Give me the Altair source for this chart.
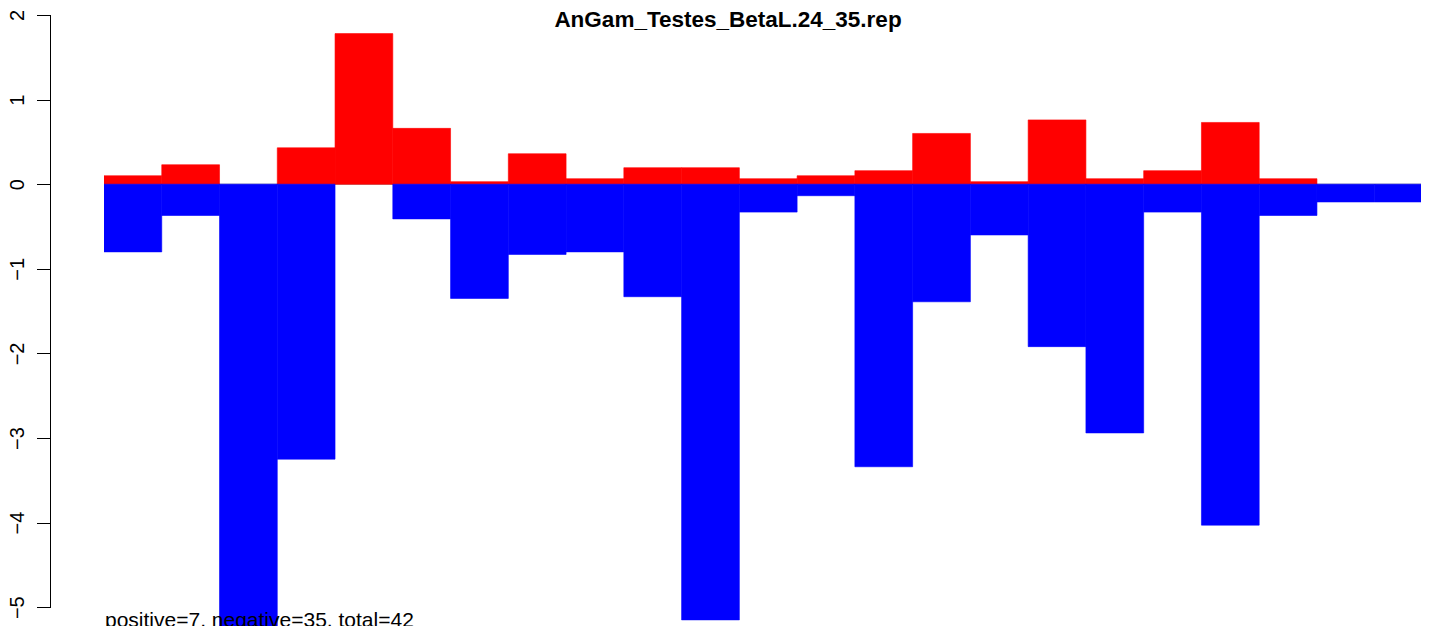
import altair as alt
import pandas as pd

# Values (one entry per bar, left to right)
positive = [0.10, 0.23, 0.0, 0.43, 1.78, 0.66, 0.03, 0.36, 0.065, 0.195, 0.195, 0.065,
            0.10, 0.16, 0.60, 0.03, 0.76, 0.065, 0.16, 0.73, 0.065, 0.0, 0.0]
negative = [-0.80, -0.37, -5.6, -3.25, 0.0, -0.41, -1.35, -0.83, -0.80, -1.33, -5.15, -0.33,
            -0.136, -3.34, -1.39, -0.60, -1.92, -2.94, -0.33, -4.03, -0.37, -0.21, -0.21]
y_ticks = [-5, -4, -3, -2, -1, 0, 1, 2]
title_text = "AnGam_Testes_BetaL.24_35.rep"
summary_text = "positive=7, negative=35, total=42"

n = len(positive)
df = pd.DataFrame({
    "start": list(range(n)),
    "end": [i + 1 for i in range(n)],
    "pos": positive,
    "neg": negative,
})

W = 1317
H = 611
BAND = 57.76
FONT = "Liberation Sans"

xs = alt.Scale(domain=[0, W / BAND], nice=False, zero=False)
ys = alt.Scale(domain=[2 - H / 84.6, 2], nice=False, zero=False)

yaxis = alt.Axis(
    values=y_ticks, title=None, domain=False, grid=False, offset=53.5,
    tickSize=14, tickColor="black", tickWidth=1,
    labelAngle=270, labelAlign="center", labelBaseline="alphabetic",
    labelPadding=13.5, labelFont=FONT, labelFontSize=20, labelColor="black",
    labelFlush=False, labelOverlap=False, format="d",
)

zero_rule = alt.Chart(pd.DataFrame({"v": [0]})).mark_rule(
    color="#808080", strokeWidth=1
).encode(
    y=alt.Y("v:Q", scale=ys, axis=yaxis),
    x=alt.value(0),
    x2=alt.value(W),
)

red = alt.Chart(df).transform_filter("datum.pos > 0").mark_bar(
    color="#FF0000", stroke="#FF0000", strokeWidth=0.6, clip=True
).encode(
    x=alt.X("start:Q", scale=xs, axis=None),
    x2="end:Q",
    y=alt.Y("pos:Q", scale=ys, axis=yaxis),
    y2=alt.datum(0),
)

blue = alt.Chart(df).transform_filter("datum.neg < 0").mark_bar(
    color="#0000FF", stroke="#0000FF", strokeWidth=0.6, clip=True
).encode(
    x=alt.X("start:Q", scale=xs, axis=None),
    x2="end:Q",
    y=alt.Y("neg:Q", scale=ys, axis=yaxis),
    y2=alt.datum(0),
)

axis_line = alt.Chart(pd.DataFrame({"lo": [y_ticks[0]], "hi": [y_ticks[-1]]})).mark_rule(
    color="black", strokeWidth=1
).encode(
    x=alt.value(-53.5),
    y=alt.Y("lo:Q", scale=ys, axis=yaxis),
    y2="hi:Q",
)

title = alt.Chart(pd.DataFrame({"t": [title_text]})).mark_text(
    font=FONT, fontWeight="bold", fontSize=22.5, align="center", baseline="top", color="black"
).encode(
    text="t:N",
    x=alt.value(624),
    y=alt.value(-6),
)

summary = alt.Chart(pd.DataFrame({"t": [summary_text]})).mark_text(
    font=FONT, fontSize=21, align="left", baseline="alphabetic", color="black"
).encode(
    text="t:N",
    x=alt.value(1),
    y=alt.value(612),
)

chart = alt.layer(zero_rule, red, blue, axis_line, title, summary).properties(
    width=W,
    height=H,
    padding={"left": 96, "top": 7, "right": 0, "bottom": 0},
    autosize=alt.AutoSizeParams(type="none"),
).configure_view(stroke=None)

chart.save("out.html", embed_options={"renderer": "svg", "actions": False})
